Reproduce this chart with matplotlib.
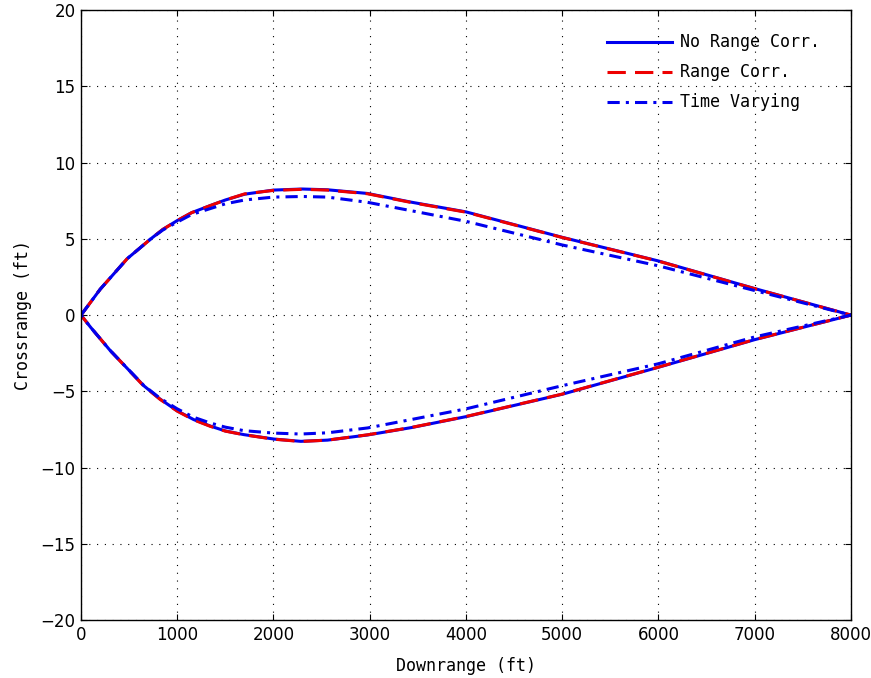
import matplotlib.pyplot as plt

plt.rcParams["font.family"] = "DejaVu Sans"
plt.rcParams["axes.linewidth"] = 1.0

# upper branch (downrange ft, crossrange ft)
up_x = [0, 100, 200, 480, 725, 850, 1000, 1150, 1350, 1500, 1700, 2000, 2300, 2560, 2975, 3420, 4000, 5000, 6000, 7000, 8000]
up_nrc = [0, 0.85, 1.7, 3.7, 5.0, 5.62, 6.2, 6.72, 7.2, 7.55, 7.93, 8.2, 8.27, 8.22, 7.98, 7.42, 6.77, 5.1, 3.55, 1.74, 0]
up_rc = [0, 0.85, 1.7, 3.7, 5.0, 5.62, 6.2, 6.72, 7.2, 7.55, 7.95, 8.18, 8.25, 8.2, 7.96, 7.4, 6.75, 5.09, 3.54, 1.73, 0]
up_tv = [0, 0.85, 1.7, 3.7, 5.0, 5.58, 6.1, 6.6, 7.0, 7.3, 7.55, 7.74, 7.78, 7.74, 7.4, 6.86, 6.15, 4.6, 3.23, 1.61, 0]

# lower branch
lo_x = [0, 100, 300, 650, 820, 1000, 1170, 1345, 1500, 1693, 2005, 2284, 2562, 2979, 3431, 4000, 5000, 6000, 7000, 8000]
lo_nrc = [0, -0.8, -2.3, -4.62, -5.5, -6.28, -6.85, -7.28, -7.6, -7.84, -8.13, -8.28, -8.2, -7.86, -7.38, -6.66, -5.19, -3.42, -1.61, 0]
lo_rc = [0, -0.8, -2.3, -4.64, -5.52, -6.3, -6.87, -7.3, -7.61, -7.85, -8.14, -8.29, -8.2, -7.85, -7.37, -6.65, -5.18, -3.41, -1.6, 0]
lo_tv = [0, -0.8, -2.3, -4.6, -5.45, -6.15, -6.7, -7.08, -7.35, -7.58, -7.74, -7.8, -7.72, -7.4, -6.85, -6.15, -4.63, -3.19, -1.43, 0]

labels = ["No Range Corr.", "Range Corr.", "Time Varying"]

x_loop = up_x + lo_x[::-1]

fig = plt.figure(figsize=(8.71, 6.78), dpi=100)
ax = fig.add_axes([0.093, 0.0855, 0.884, 0.8995])

ax.plot(x_loop, up_nrc + lo_nrc[::-1], color="#0000ee", lw=2.2, label=labels[0])
ax.plot(x_loop, up_rc + lo_rc[::-1], color="#ee0000", lw=2.2, dashes=(6, 3), label=labels[1])
ax.plot(x_loop, up_tv + lo_tv[::-1], color="#0000ee", lw=2.2, dashes=(4, 2, 1, 2), label=labels[2])

ax.set_xlim(0, 8000)
ax.set_ylim(-20, 20)
ax.set_xticks(range(0, 8001, 1000))
ax.set_yticks(range(-20, 21, 5))
ax.grid(True, color="black", linestyle=(0, (1, 6)), linewidth=0.8)
ax.tick_params(direction="in", top=True, right=True, length=4, labelsize=12, pad=4)

ax.set_xlabel("Downrange (ft)", fontsize=12, family="DejaVu Sans Mono", labelpad=10)
ax.set_ylabel("Crossrange (ft)", fontsize=12, family="DejaVu Sans Mono", labelpad=6)

ax.legend(loc="upper left", bbox_to_anchor=(0.683, 0.962), frameon=False,
          prop={"family": "DejaVu Sans Mono", "size": 12},
          handlelength=3.9, handletextpad=0.5, labelspacing=0.72,
          borderpad=0, borderaxespad=0)

plt.savefig("out.png", dpi=100)
